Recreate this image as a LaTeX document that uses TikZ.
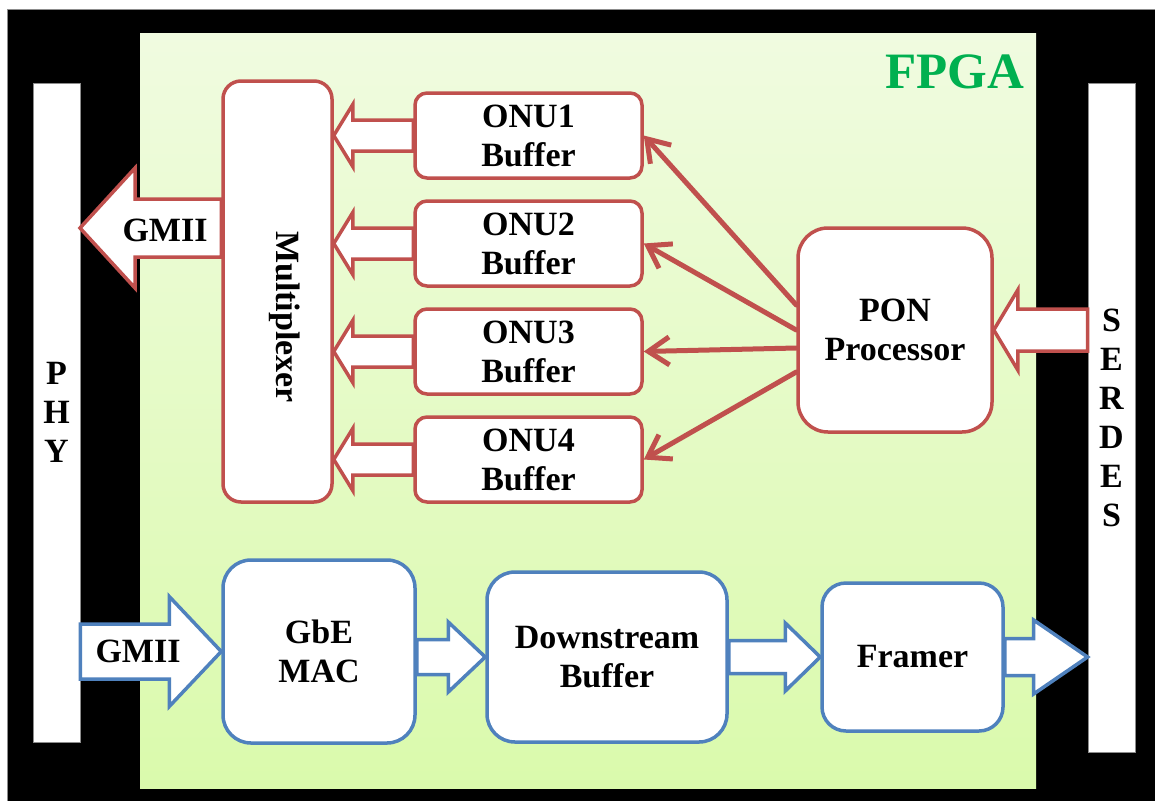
\documentclass[tikz,border=0pt]{standalone}
\usepackage{fontspec}
\setmainfont{Liberation Serif}
\usepackage{tikz}
\usetikzlibrary{arrows.meta,positioning,calc}
\usepackage{xcolor}

\definecolor{ponred}{RGB}{192,80,77}
\definecolor{gbeblue}{RGB}{79,129,189}
\definecolor{fpgagreen}{RGB}{0,176,80}
\definecolor{fpgatop}{RGB}{240,251,224}
\definecolor{fpgabottom}{RGB}{218,250,172}

\tikzset{
	redbox/.style={rectangle,draw=ponred,line width=3.5pt,fill=white,rounded corners=12pt,align=center},
	bluebox/.style={rectangle,draw=gbeblue,line width=3.5pt,fill=white,rounded corners=28pt,align=center},
	bar/.style={rectangle,draw=black!45,line width=0.8pt,fill=white,inner sep=0pt,align=center,minimum width=47pt},
	fat/.style={line width=3.5pt,fill=white,line join=miter},
	ponline/.style={draw=ponred,line width=5pt,line cap=round,-{Straight Barb[length=21pt,width=28pt]}},
}

% block arrow: colour, from, tip, shaft half width, head half width, signed head length
\newcommand{\fatarrow}[6]{%
	\draw[fat,draw=#1] let \p1=(#2), \p2=(#3) in
		({\x1},{\y2+#4}) -- ({\x2-(#6)},{\y2+#4}) -- ({\x2-(#6)},{\y2+#5}) -- ({\x2},{\y2})
		-- ({\x2-(#6)},{\y2-#5}) -- ({\x2-(#6)},{\y2-#4}) -- ({\x1},{\y2-#4}) -- cycle;}

\begin{document}
\begin{tikzpicture}[x=1pt,y=-1pt]
	\useasboundingbox (0,0) rectangle (1155,800);
	\fill[white] (0,0) rectangle (1155,800);
	\draw[black!45,fill=black] (7,9) rectangle (1156,801);

	\begin{scope}[every node/.style={font=\fontsize{34}{39}\selectfont\bfseries}]
		\node[rectangle,inner sep=0pt,minimum width=896pt,minimum height=754pt,top color=fpgatop,bottom color=fpgabottom] (fpga) at (588,411) {};
		\node[text=fpgagreen,font=\fontsize{51}{51}\selectfont\bfseries] (fpgalabel) at (955,72) {FPGA};

		\node[bar,minimum height=659pt] (phy) at (56.5,412.5) {P\\H\\Y};
		\node[bar,minimum height=669pt] (serdes) at (1111.5,417.5) {S\\E\\R\\D\\E\\S};

		\node[redbox,rounded corners=18pt,minimum width=109pt,minimum height=421pt] (mux) at (277.5,291.5) {};
		\node[rotate=-90] (muxlabel) at (285,317) {Multiplexer};
		\node[redbox,minimum width=227pt,minimum height=85pt] (onu1) at (528.5,135.5) {ONU1\\Buffer};
		\node[redbox,minimum width=227pt,minimum height=85pt,below=19.5pt of onu1] (onu2) {ONU2\\Buffer};
		\node[redbox,minimum width=227pt,minimum height=85pt,below=19.5pt of onu2] (onu3) {ONU3\\Buffer};
		\node[redbox,minimum width=227pt,minimum height=85pt,below=19.5pt of onu3] (onu4) {ONU4\\Buffer};
		\node[redbox,rounded corners=30pt,minimum width=194pt,minimum height=204pt] (pon) at (895,330) {PON\\Processor};

		\node[bluebox,minimum width=192pt,minimum height=183pt] (gbe) at (319,651.5) {GbE\\MAC};
		\node[bluebox,minimum width=240pt,minimum height=170pt] (dsbuf) at (607,657) {Downstream\\Buffer};
		\node[bluebox,rounded corners=24pt,minimum width=181pt,minimum height=148pt] (framer) at (912.5,657) {Framer};
	\end{scope}

	% receive side
	\coordinate (gmiitx) at (80,228);
	\fatarrow{ponred}{mux.west}{gmiitx}{29pt}{60pt}{-55pt}
	\foreach \i in {1,...,4}{
		\fatarrow{ponred}{onu\i.west}{mux.east |- onu\i.west}{15.5pt}{31pt}{-19pt}
	}
	\fatarrow{ponred}{serdes.west}{pon.east}{21pt}{40pt}{-24pt}

	\draw[ponline] ($(pon.west)+(0,-25)$) -- (onu1.east);
	\draw[ponline] (pon.west) -- (onu2.east);
	\draw[ponline] ($(pon.west)+(0,18)$) -- (onu3.east);
	\draw[ponline] ($(pon.west)+(0,42)$) -- (onu4.east);

	% transmit side
	\fatarrow{gbeblue}{phy.east}{gbe.west}{27.5pt}{55pt}{52pt}
	\fatarrow{gbeblue}{gbe.east}{dsbuf.west}{17.5pt}{35pt}{37pt}
	\fatarrow{gbeblue}{dsbuf.east}{framer.west}{16.5pt}{34pt}{35pt}
	\fatarrow{gbeblue}{framer.east}{serdes.west |- framer.east}{18.5pt}{37pt}{54pt}

	\begin{scope}[every node/.style={font=\fontsize{34}{39}\selectfont\bfseries}]
		\node (gmiirx) at (165,230) {GMII};
		\node (gmiiin) at (138,651) {GMII};
	\end{scope}
\end{tikzpicture}
\end{document}
